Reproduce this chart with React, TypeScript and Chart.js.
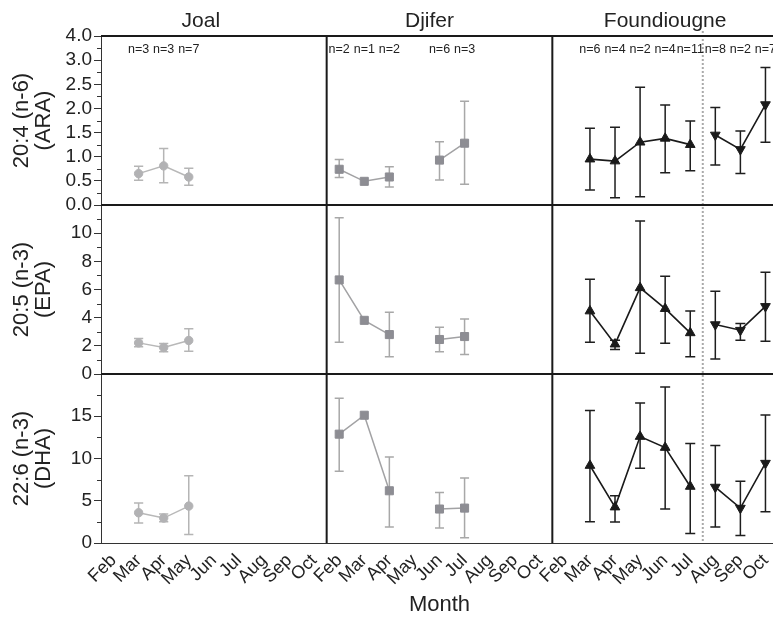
import React, { useEffect, useRef } from 'react';
import { Chart, registerables } from 'chart.js';

Chart.register(...registerables);

const FONT = "'Liberation Sans', Arial, Helvetica, sans-serif";

// ---------- categories / labels ----------
const months = ['Feb', 'Mar', 'Apr', 'May', 'Jun', 'Jul', 'Aug', 'Sep', 'Oct'];
const sites = ['Joal', 'Djifer', 'Foundiougne'];
const rowTitles = [
  ['20:4 (n-6)', '(ARA)'],
  ['20:5 (n-3)', '(EPA)'],
  ['22:6 (n-3)', '(DHA)'],
];
const xTitle = 'Month';

// ---------- tick values ----------
const araTicks = [0, 0.5, 1, 1.5, 2, 2.5, 3, 3.5];
const araTickLabels = ['0.0', '0.5', '1.0', '1.5', '2.0', '2.5', '3.0', '4.0'];
const araMinor = [0.25, 0.75, 1.25, 1.75, 2.25, 2.75, 3.25];
const epaTicks = [0, 2, 4, 6, 8, 10, 12];
const epaTickLabels = ['0', '2', '4', '6', '8', '10', ''];
const epaMinor = [1, 3, 5, 7, 9, 11];
const dhaTicks = [0, 5, 10, 15, 20];
const dhaTickLabels = ['0', '5', '10', '15', ''];
const dhaMinor = [2.5, 7.5, 12.5, 17.5];

// ---------- sample sizes ----------
const joalN = [null, 3, 3, 7, null, null, null, null, null];
const djiferN = [2, 1, 2, null, 6, 3, null, null, null];
const foundN = [null, 6, 4, 2, 4, 11, 8, 2, 7];

// ---------- Joal ----------
const joalAra = [null, 0.65, 0.81, 0.58, null, null, null, null, null];
const joalAraLo = [null, 0.51, 0.46, 0.41, null, null, null, null, null];
const joalAraHi = [null, 0.80, 1.17, 0.76, null, null, null, null, null];
const joalEpa = [null, 2.21, 1.88, 2.38, null, null, null, null, null];
const joalEpaLo = [null, 1.93, 1.58, 1.62, null, null, null, null, null];
const joalEpaHi = [null, 2.52, 2.17, 3.22, null, null, null, null, null];
const joalDha = [null, 3.58, 2.95, 4.37, null, null, null, null, null];
const joalDhaLo = [null, 2.36, 2.52, 1.02, null, null, null, null, null];
const joalDhaHi = [null, 4.72, 3.43, 7.95, null, null, null, null, null];

// ---------- Djifer ----------
const djiferAra = [0.74, 0.49, 0.58, null, 0.93, 1.28, null, null, null];
const djiferAraLo = [0.57, null, 0.375, null, 0.52, 0.43, null, null, null];
const djiferAraHi = [0.94, null, 0.79, null, 1.31, 2.15, null, null, null];
const djiferEpa = [6.68, 3.81, 2.80, null, 2.45, 2.66, null, null, null];
const djiferEpaLo = [2.26, null, 1.22, null, 1.58, 1.39, null, null, null];
const djiferEpaHi = [11.1, null, 4.38, null, 3.32, 3.91, null, null, null];
const djiferDha = [12.88, 15.12, 6.18, null, 4.02, 4.13, null, null, null];
const djiferDhaLo = [8.5, null, 1.89, null, 1.77, 0.63, null, null, null];
const djiferDhaHi = [17.13, null, 10.19, null, 5.98, 7.68, null, null, null];

// ---------- Foundiougne (Mar–Jul, then Aug–Oct) ----------
const foundAraA = [null, 0.95, 0.91, 1.30, 1.38, 1.25, null, null, null];
const foundAraALo = [null, 0.31, 0.15, 0.17, 0.67, 0.71, null, null, null];
const foundAraAHi = [null, 1.59, 1.61, 2.44, 2.07, 1.74, null, null, null];
const foundAraB = [null, null, null, null, null, null, 1.45, 1.15, 2.08];
const foundAraBLo = [null, null, null, null, null, null, 0.83, 0.65, 1.30];
const foundAraBHi = [null, null, null, null, null, null, 2.02, 1.53, 2.85];

const foundEpaA = [null, 4.47, 2.12, 6.12, 4.64, 2.92, null, null, null];
const foundEpaALo = [null, 2.26, 1.74, 1.48, 2.19, 1.22, null, null, null];
const foundEpaAHi = [null, 6.73, 2.40, 10.87, 6.94, 4.47, null, null, null];
const foundEpaB = [null, null, null, null, null, null, 3.51, 3.11, 4.80];
const foundEpaBLo = [null, null, null, null, null, null, 1.06, 2.40, 2.33];
const foundEpaBHi = [null, null, null, null, null, null, 5.88, 3.58, 7.22];

const foundDhaA = [null, 9.17, 4.25, 12.6, 11.3, 6.69, null, null, null];
const foundDhaALo = [null, 2.52, 2.48, 8.86, 4.02, 1.13, null, null, null];
const foundDhaAHi = [null, 15.67, 5.59, 16.57, 18.46, 11.77, null, null, null];
const foundDhaB = [null, null, null, null, null, null, 6.62, 4.13, 9.45];
const foundDhaBLo = [null, null, null, null, null, null, 1.89, 0.90, 3.70];
const foundDhaBHi = [null, null, null, null, null, null, 11.53, 7.32, 15.16];

// ---------- styles ----------
const joalStyle = {
  borderColor: '#b8b8b8', pointBackgroundColor: '#b2b2b4', pointBorderColor: '#b2b2b4',
  borderWidth: 1.5, pointStyle: 'circle', pointRadius: 4.2, pointBorderWidth: 1,
  errColor: '#b5b5b5', cap: 4.6,
};
const djiferStyle = {
  borderColor: '#a2a2a4', pointBackgroundColor: '#8d8d93', pointBorderColor: '#8d8d93',
  borderWidth: 1.5, pointStyle: 'rect', pointRadius: 5.7, pointBorderWidth: 1,
  errColor: '#a8a8a8', cap: 4.5,
};
const foundStyle = {
  borderColor: '#1a1a1a', pointBackgroundColor: '#1a1a1a', pointBorderColor: '#1a1a1a',
  borderWidth: 1.6, pointStyle: 'triangle', pointRadius: 5.6, pointBorderWidth: 1,
  errColor: '#1e1e1e', cap: 5,
};

const mk = (label: string, data: any[], lo: any[], hi: any[], x: string, y: string, style: any, extra: any = {}) => ({
  type: 'line', label, data, errLow: lo, errHigh: hi, xAxisID: x, yAxisID: y,
  tension: 0, spanGaps: false, fill: false, ...style, ...extra,
});

const datasets = [
  mk('Joal ARA', joalAra, joalAraLo, joalAraHi, 'xJ', 'yA', joalStyle),
  mk('Joal EPA', joalEpa, joalEpaLo, joalEpaHi, 'xJ', 'yE', joalStyle),
  mk('Joal DHA', joalDha, joalDhaLo, joalDhaHi, 'xJ', 'yD', joalStyle),
  mk('Djifer ARA', djiferAra, djiferAraLo, djiferAraHi, 'xDj', 'yA', djiferStyle),
  mk('Djifer EPA', djiferEpa, djiferEpaLo, djiferEpaHi, 'xDj', 'yE', djiferStyle),
  mk('Djifer DHA', djiferDha, djiferDhaLo, djiferDhaHi, 'xDj', 'yD', djiferStyle),
  mk('Foundiougne ARA a', foundAraA, foundAraALo, foundAraAHi, 'xF', 'yA', foundStyle),
  mk('Foundiougne ARA b', foundAraB, foundAraBLo, foundAraBHi, 'xF', 'yA', foundStyle, { pointRotation: 180 }),
  mk('Foundiougne EPA a', foundEpaA, foundEpaALo, foundEpaAHi, 'xF', 'yE', foundStyle),
  mk('Foundiougne EPA b', foundEpaB, foundEpaBLo, foundEpaBHi, 'xF', 'yE', foundStyle, { pointRotation: 180 }),
  mk('Foundiougne DHA a', foundDhaA, foundDhaALo, foundDhaAHi, 'xF', 'yD', foundStyle),
  mk('Foundiougne DHA b', foundDhaB, foundDhaBLo, foundDhaBHi, 'xF', 'yD', foundStyle, { pointRotation: 180 }),
];

// ---------- scales ----------
const mkY = (min: number, max: number, ticks: number[], labels: string[], title: string[], minor: number[]) => ({
  type: 'linear', position: 'left', stack: 'rows', min, max,
  minorTicks: minor,
  afterFit: (s: any) => { s.width = 101; s.paddingTop = 0; s.paddingBottom = 0; },
  afterBuildTicks: (s: any) => { s.ticks = ticks.map((v) => ({ value: v })); },
  ticks: {
    autoSkip: false, padding: 2, color: '#222', font: { size: 19, family: FONT },
    callback: (_v: any, i: number) => labels[i] ?? '',
  },
  grid: { drawOnChartArea: false, drawTicks: true, tickLength: 7, color: '#333', lineWidth: 1 },
  border: { display: true, color: '#333', width: 1 },
  title: {
    display: true, text: title, color: '#222',
    font: { size: 22, family: FONT, lineHeight: 1.0 }, padding: { top: 10.5, bottom: 0 },
  },
});

const mkX = (title?: string) => ({
  type: 'category', labels: months, position: 'bottom', stack: 'cols', offset: true,
  afterFit: (s: any) => { s.height = 74; s.paddingLeft = 0; s.paddingRight = 0; },
  grid: { display: false, drawTicks: false },
  border: { display: true, color: '#333', width: 1 },
  ticks: {
    autoSkip: false, minRotation: 45, maxRotation: 45, padding: 7, color: '#222',
    font: { size: 18, family: FONT },
  },
  title: title
    ? { display: true, text: title, color: '#222', font: { size: 22, family: FONT, lineHeight: 1.1 }, padding: { top: 0, bottom: 0 } }
    : { display: false },
});

const siteN = [joalN, djiferN, foundN];
const siteAxes = ['xJ', 'xDj', 'xF'];
const titleShift = [-13, -10, 0];

const panelPlugin = {
  id: 'panelPlugin',
  beforeDatasetsDraw(chart: any) {
    const ctx = chart.ctx;
    const ca = chart.chartArea;
    // dotted separator in Foundiougne between Jul and Aug
    const xf = chart.scales.xF;
    const sx = (xf.getPixelForValue(5) + xf.getPixelForValue(6)) / 2;
    ctx.save();
    ctx.strokeStyle = '#aaaaaa';
    ctx.lineWidth = 2;
    ctx.setLineDash([2, 2]);
    ctx.beginPath();
    ctx.moveTo(sx, 31);
    ctx.lineTo(sx, ca.bottom);
    ctx.stroke();
    ctx.restore();

    // error bars
    chart.data.datasets.forEach((ds: any) => {
      const xs = chart.scales[ds.xAxisID];
      const ys = chart.scales[ds.yAxisID];
      ctx.save();
      ctx.strokeStyle = ds.errColor;
      ctx.lineWidth = 1.5;
      ds.errLow.forEach((lo: number | null, j: number) => {
        const hi = ds.errHigh[j];
        if (lo == null || hi == null) return;
        const x = xs.getPixelForValue(j);
        const y1 = ys.getPixelForValue(lo);
        const y2 = ys.getPixelForValue(hi);
        ctx.beginPath();
        ctx.moveTo(x, y1); ctx.lineTo(x, y2);
        ctx.moveTo(x - ds.cap, y1); ctx.lineTo(x + ds.cap, y1);
        ctx.moveTo(x - ds.cap, y2); ctx.lineTo(x + ds.cap, y2);
        ctx.stroke();
      });
      ctx.restore();
    });
  },
  afterDraw(chart: any) {
    const ctx = chart.ctx;
    const ca = chart.chartArea;
    const { yA, yE, yD } = chart.scales;
    ctx.save();
    // minor ticks
    ctx.strokeStyle = '#333';
    ctx.lineWidth = 1;
    [yA, yE, yD].forEach((s: any) => {
      (s.options.minorTicks || []).forEach((v: number) => {
        const py = Math.round(s.getPixelForValue(v)) + 0.5;
        ctx.beginPath();
        ctx.moveTo(s.right - 4, py);
        ctx.lineTo(s.right, py);
        ctx.stroke();
      });
    });
    // panel borders
    ctx.strokeStyle = '#1a1a1a';
    ctx.lineWidth = 2;
    ctx.beginPath();
    ctx.moveTo(ca.left, ca.top); ctx.lineTo(ca.right, ca.top);
    ctx.moveTo(ca.left, yA.bottom); ctx.lineTo(ca.right, yA.bottom);
    ctx.moveTo(ca.left, yE.bottom); ctx.lineTo(ca.right, yE.bottom);
    ['xJ', 'xDj', 'xF'].forEach((id) => {
      const s = chart.scales[id];
      ctx.moveTo(s.right, ca.top); ctx.lineTo(s.right, ca.bottom);
    });
    ctx.stroke();

    // column titles and sample sizes
    ctx.fillStyle = '#222';
    ctx.textBaseline = 'middle';
    ctx.textAlign = 'center';
    sites.forEach((name, i) => {
      const s = chart.scales[siteAxes[i]];
      ctx.font = `21px ${FONT}`;
      ctx.fillText(name, (s.left + s.right) / 2 + titleShift[i], 21.5);
      ctx.font = `12.5px ${FONT}`;
      siteN[i].forEach((n, j) => {
        if (n == null) return;
        ctx.fillText(`n=${n}`, s.getPixelForValue(j), 49.5);
      });
    });
    ctx.restore();
  },
};

export default function App() {
  const ref = useRef<HTMLCanvasElement>(null);
  useEffect(() => {
    Chart.defaults.font.family = FONT;
    const chart = new Chart(ref.current as HTMLCanvasElement, {
      type: 'line',
      data: { labels: months, datasets: datasets as any },
      options: {
        responsive: false,
        animation: false,
        devicePixelRatio: 1,
        events: [],
        layout: { padding: { top: 36, right: 7, bottom: 0, left: 0 } },
        plugins: { legend: { display: false }, tooltip: { enabled: false } },
        scales: {
          xJ: mkX(),
          xDj: mkX(xTitle),
          xF: mkX(),
          yD: mkY(0, 20, dhaTicks, dhaTickLabels, rowTitles[2], dhaMinor),
          yE: mkY(0, 12, epaTicks, epaTickLabels, rowTitles[1], epaMinor),
          yA: mkY(0, 3.5, araTicks, araTickLabels, rowTitles[0], araMinor),
        } as any,
      },
      plugins: [panelPlugin as any],
    });
    return () => chart.destroy();
  }, []);
  return (
    <div style={{ position: 'fixed', left: 0, top: 0, width: 773, height: 617, overflow: 'hidden', background: '#fff' }}>
      <canvas ref={ref} width={785} height={617} style={{ display: 'block', width: 785, height: 617 }} />
    </div>
  );
}
